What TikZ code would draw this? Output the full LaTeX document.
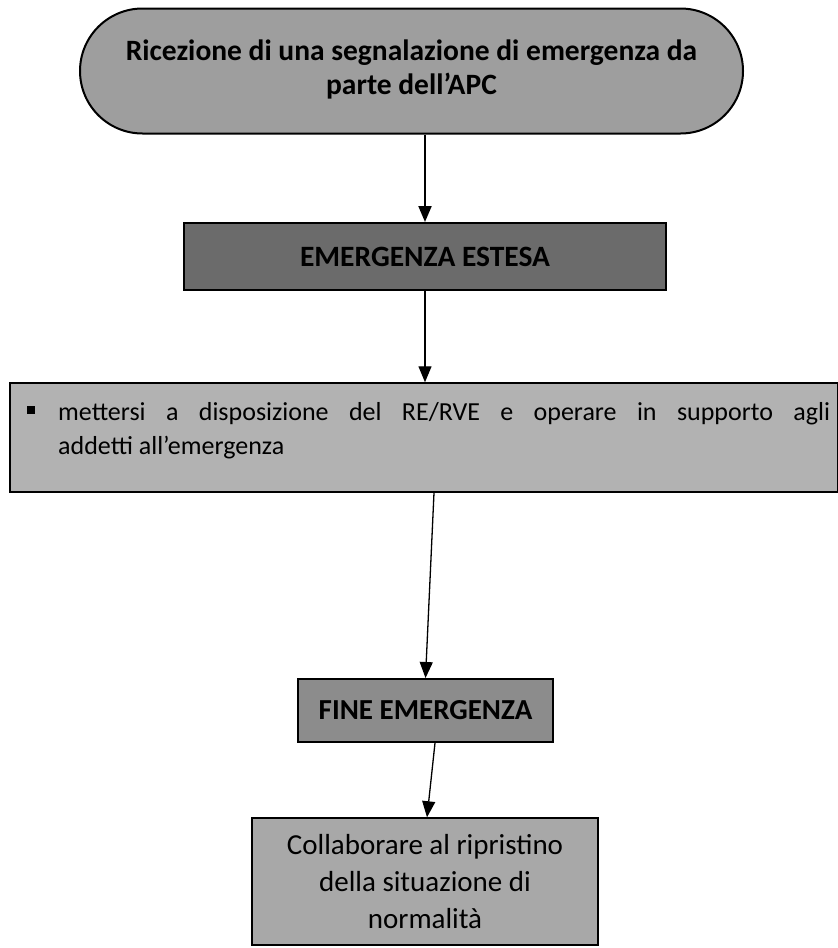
\documentclass[tikz,border=0pt]{standalone}
\usepackage{fontspec}
\setmainfont{Carlito}
\usetikzlibrary{arrows.meta,shapes.misc,positioning}
\definecolor{gstart}{gray}{0.62}
\definecolor{gest}{gray}{0.42}
\definecolor{gwide}{gray}{0.70}
\definecolor{gfine}{gray}{0.55}
\definecolor{gcol}{gray}{0.66}
\tikzset{
  box/.style={draw=black, line width=2pt, inner sep=0pt, align=center},
  conn/.style={draw=black, line width=1.3pt, -{Triangle[length=16pt,width=13pt]}},
}
\begin{document}
\begin{tikzpicture}[x=1pt,y=-1pt]
\useasboundingbox (0,0) rectangle (838,948);
\node[box, rounded rectangle, fill=gstart, minimum width=663pt, minimum height=125pt,
      font=\bfseries\fontsize{29.5}{34}\selectfont] (start) at (411.5,71)
  {\raisebox{6pt}{\begin{tabular}{@{}c@{}}Ricezione di una segnalazione di emergenza da\\parte dell’APC\end{tabular}}};
\node[box, rectangle, fill=gest, minimum width=482pt, minimum height=67pt,
      font=\bfseries\fontsize{29.5}{30}\selectfont] (est) at (425,256.5) {EMERGENZA ESTESA};
\node[box, rectangle, fill=gwide, minimum width=828pt, minimum height=109pt, line width=1.5pt] (wide) at (424,437.5) {};
\node[align=justify, text width=772pt, anchor=north west, inner sep=0pt,
      font=\fontsize{26}{34}\selectfont] (widetext) at (58,402)
  {\llap{\raisebox{6pt}{\rule{8pt}{8pt}}\hspace{23pt}}mettersi a disposizione del RE/RVE e operare in supporto agli\linebreak addetti all’emergenza};
\node[box, rectangle, fill=gfine, minimum width=255pt, minimum height=63pt,
      font=\bfseries\fontsize{29}{30}\selectfont] (fine) at (425.5,710.5) {FINE EMERGENZA};
\node[box, rectangle, fill=gcol, minimum width=346pt, minimum height=127pt, line width=1.5pt,
      font=\fontsize{29}{37}\selectfont] (col) at (425,881.5)
  {Collaborare al ripristino\\della situazione di\\normalità};
\draw[conn, line width=2pt] (est.north |- start.south) -- (est.north);
\draw[conn] (est.south) -- (wide.north -| est.south);
\draw[conn] ([xshift=10pt]wide.south) -- (fine.north);
\draw[conn] ([xshift=9.5pt]fine.south) -- ([xshift=2pt]col.north);
\end{tikzpicture}
\end{document}
